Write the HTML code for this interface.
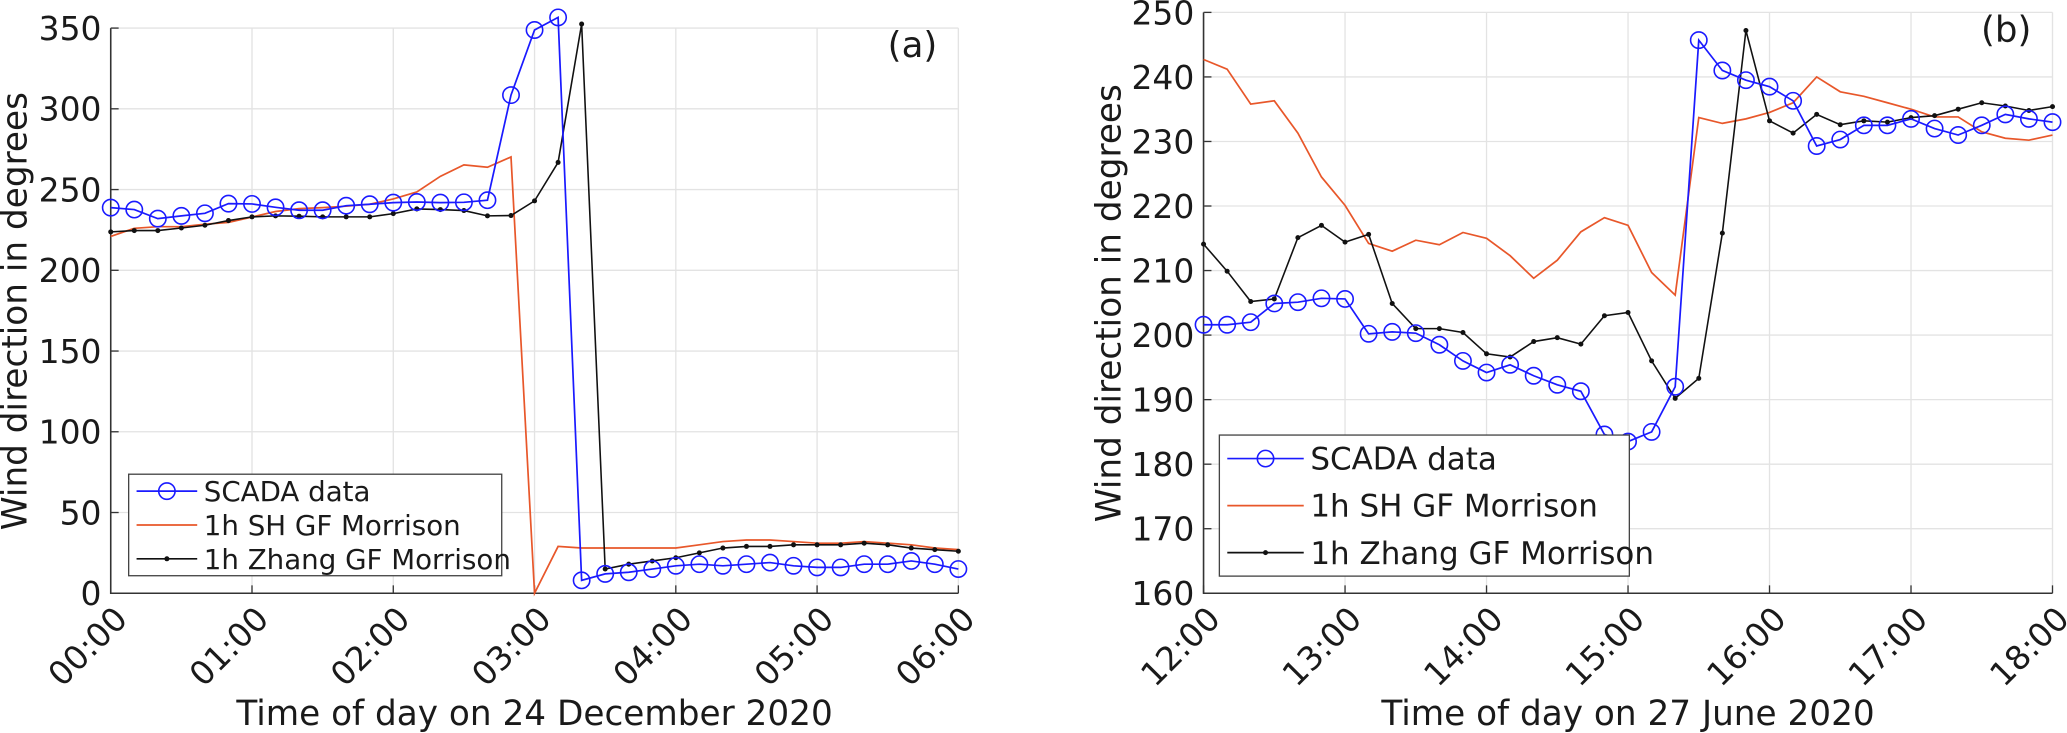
<!DOCTYPE html>
<html><head><meta charset="utf-8"><style>
html,body{margin:0;padding:0;background:#fff;}
svg{display:block;}
text{font-family:"DejaVu Sans","Liberation Sans",sans-serif;fill:#1a1a1a;}
</style></head><body>
<svg id="chart" width="2067" height="733" viewBox="0 0 1568 556" preserveAspectRatio="none" xmlns="http://www.w3.org/2000/svg"></svg>
<script>
// ---------- Panel (a) data: 24 Dec 2020, 10-min steps from 00:00 (hours) ----------
const aScada = [238.8,237.6,232,233.7,235.3,241.3,241.1,239,237.2,237.2,240,240.9,241.9,242.3,241.9,242.1,243.4,308.5,348.8,356.6,8,12,13,15,17,18,17,18,19,17,16,16,18,18,20,18,15];
const aSH = [221,226,227,227,228.5,229.7,233,236.4,238.2,238.8,239.7,240.9,244.2,248.5,258.2,265.3,263.8,270.2,0,29,28,28,28,28,28,30,32,33,33,32,31,31,32,31,30,28,27];
const aZhang = [223.8,224.6,224.6,226.2,227.9,230.8,233.1,233.7,233.5,233.1,233.1,233.1,235.1,238,237.6,237,233.7,233.9,243,266.8,352.5,15,18,20,22,25,28,29,29,30,30,30,31,30,28,27,26];
const aYTicks = [0,50,100,150,200,250,300,350];
const aXTicks = ["00:00","01:00","02:00","03:00","04:00","05:00","06:00"];
// ---------- Panel (b) data: 27 Jun 2020, 10-min steps from 12:00 ----------
const bScada = [201.6,201.6,202,204.9,205.1,205.7,205.6,200.2,200.5,200.3,198.5,196,194.2,195.4,193.7,192.3,191.3,184.6,183.5,185,192,245.7,241,239.5,238.5,236.3,229.3,230.3,232.5,232.5,233.5,232,231,232.5,234.2,233.5,233];
const bSH = [242.7,241.2,235.8,236.3,231.3,224.5,220.1,214.2,213,214.7,214,215.9,215,212.3,208.8,211.6,216,218.2,217,209.7,206.2,233.7,232.8,233.5,234.5,236,240,237.7,237,236,235,233.8,233.8,231.5,230.5,230.2,231];
const bZhang = [214.1,209.9,205.2,205.6,215.1,217,214.4,215.6,204.9,201,201,200.4,197.1,196.6,199,199.6,198.6,203,203.5,196,190.2,193.3,215.8,247.2,233.2,231.3,234.2,232.6,233.2,233,233.7,234,235,236,235.5,234.8,235.4];
const bYTicks = [160,170,180,190,200,210,220,230,240,250];
const bXTicks = ["12:00","13:00","14:00","15:00","16:00","17:00","18:00"];

const NS="http://www.w3.org/2000/svg";
const svg=document.getElementById('chart');
function mk(tag,attrs,parent){const e=document.createElementNS(NS,tag);for(const k in attrs)e.setAttribute(k,attrs[k]);(parent||svg).appendChild(e);return e;}

function panel(cfg){
  const g=mk('g',{});
  
  
  const xS=i=>cfg.x0+(cfg.x1-cfg.x0)*(i/36);
  const xT=h=>cfg.x0+(cfg.x1-cfg.x0)*(h/6);
  const yS=v=>cfg.y1+(cfg.y0-cfg.y1)*((v-cfg.vmin)/(cfg.vmax-cfg.vmin));
  cfg.yTicks.forEach(v=>{
    const l=mk('line',{x1:cfg.x0,x2:cfg.x1,y1:yS(v),y2:yS(v),stroke:'#e3e3e3','stroke-width':1},g);
    
    
    const tk=mk('line',{x1:cfg.x0,x2:cfg.x0+6,y1:yS(v),y2:yS(v),stroke:'#333','stroke-width':1},g);
    
    
    const t=mk('text',{x:cfg.x0-7,y:yS(v)+9,'text-anchor':'end','font-size':25},g);
    t.textContent=v;
    
    
  });
  cfg.xTicks.forEach((lab,h)=>{
    const x=xT(h);
    const l=mk('line',{x1:x,x2:x,y1:cfg.y0,y2:cfg.y1,stroke:'#e3e3e3','stroke-width':1},g);
    
    
    const tk=mk('line',{x1:x,x2:x,y1:cfg.y1,y2:cfg.y1-6,stroke:'#333','stroke-width':1},g);
    
    
    const t=mk('text',{x:0,y:0,'text-anchor':'end','font-size':25,transform:`translate(${x+14},${cfg.y1+21}) rotate(-45)`},g);
    t.textContent=lab;
    
    
  });
  const ax=mk('path',{d:`M${cfg.x0},${cfg.y0}V${cfg.y1}H${cfg.x1}`,fill:'none',stroke:'#333','stroke-width':1.2},g);
  
  
  const pts=arr=>arr.map((v,i)=>xS(i).toFixed(2)+','+yS(v).toFixed(2)).join(' ');
  const sh=mk('polyline',{points:pts(cfg.sh),fill:'none',stroke:'#e8572a','stroke-width':1.3},g);
  
  
  const zh=mk('polyline',{points:pts(cfg.zh),fill:'none',stroke:'#111','stroke-width':1.2},g);
  
  
  cfg.zh.forEach((v,i)=>{
    const c=mk('circle',{cx:xS(i),cy:yS(v),r:1.9,fill:'#111'},g);
    
    
  });
  const sc=mk('polyline',{points:pts(cfg.sc),fill:'none',stroke:'#1a1aff','stroke-width':1.3},g);
  
  
  cfg.sc.forEach((v,i)=>{
    const c=mk('circle',{cx:xS(i),cy:yS(v),r:6.2,fill:'none',stroke:'#1a1aff','stroke-width':1.2},g);
    
    
  });
  const yl=mk('text',{x:0,y:0,'text-anchor':'middle','font-size':26,transform:`translate(${cfg.ylx},${cfg.yly}) rotate(-90)`},g);
  yl.textContent='Wind direction in degrees';
  
  
  const xl=mk('text',{x:(cfg.x0+cfg.x1)/2,y:550,'text-anchor':'middle','font-size':26},g);
  xl.textContent=cfg.xTitle;
  
  
  const pl=mk('text',{x:cfg.x1-16,y:cfg.y0+22,'text-anchor':'end','font-size':27},g);
  pl.textContent=cfg.tag;
  
  
  const L=cfg.leg;
  const lg=mk('g',{},g);
  
  
  mk('rect',{x:L.x,y:L.y,width:L.w,height:L.h,fill:'#fff',stroke:'#444','stroke-width':1},lg);
  const rows=[['SCADA data','#1a1aff','o'],['1h SH GF Morrison','#e8572a',''],['1h Zhang GF Morrison','#111','.']];
  rows.forEach((r,k)=>{
    const cy=L.y+L.h*(k+0.5)/3;
    const ent=mk('g',{},lg);
    
    
    mk('line',{x1:L.x+6,x2:L.x+L.lw,y1:cy,y2:cy,stroke:r[1],'stroke-width':1.3},ent);
    if(r[2]==='o')mk('circle',{cx:L.x+(6+L.lw)/2,cy:cy,r:6.2,fill:'none',stroke:r[1],'stroke-width':1.2},ent);
    if(r[2]==='.')mk('circle',{cx:L.x+(6+L.lw)/2,cy:cy,r:1.9,fill:r[1]},ent);
    const t=mk('text',{x:L.x+L.lw+5,y:cy+L.fs*0.36,'font-size':L.fs},ent);
    t.textContent=r[0];
  });
}

panel({name:'panel-a',x0:84,x1:727,y0:21.3,y1:450,vmin:0,vmax:350,yTicks:aYTicks,xTicks:aXTicks,
  sc:aScada,sh:aSH,zh:aZhang,ylx:20,yly:236,xTitle:'Time of day on 24 December 2020',tag:'(a)',
  leg:{x:97.6,y:359.7,w:283,h:77,lw:52,fs:21}});
panel({name:'panel-b',x0:913,x1:1557,y0:9.4,y1:450,vmin:160,vmax:250,yTicks:bYTicks,xTicks:bXTicks,
  sc:bScada,sh:bSH,zh:bZhang,ylx:850,yly:230,xTitle:'Time of day on 27 June 2020',tag:'(b)',
  leg:{x:925,y:330,w:311,h:107,lw:64,fs:23.5}});
</script>
</body></html>
